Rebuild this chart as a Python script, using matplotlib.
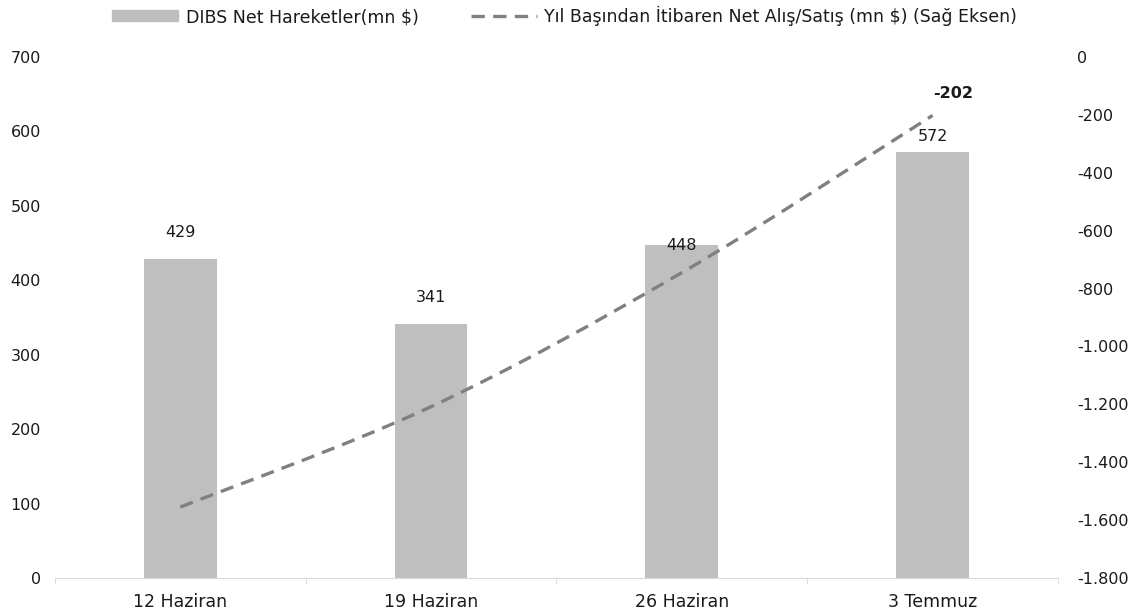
import matplotlib
matplotlib.use("Agg")
import matplotlib.pyplot as plt
from matplotlib.path import Path
from matplotlib.patches import PathPatch
from matplotlib.lines import Line2D
from matplotlib.ticker import FuncFormatter
import numpy as np

categories = ["12 Haziran", "19 Haziran", "26 Haziran", "3 Temmuz"]
dibs_net = [429, 341, 448, 572]
ytd_net = [-1555, -1208, -745, -202]

bar_label = "DIBS Net Hareketler(mn \\$)"
line_label = "Yıl Başından İtibaren Net Alış/Satış (mn \\$) (Sağ Eksen)"

bar_color = "#BFBFBF"
line_color = "#808080"
text_color = "#1A1A1A"
num_size = 11.5
txt_size = 12.5

plt.rcParams["font.family"] = ["DejaVu Sans"]

fig = plt.figure(figsize=(11.43, 6.14), dpi=100)
ax = fig.add_axes([0.0481, 0.0586, 0.8775, 0.8486])
ax2 = ax.twinx()

x = np.arange(len(categories))
ax.bar(x, dibs_net, width=0.29, color=bar_color, zorder=1)
ax.set_xlim(-0.5, len(categories) - 0.5)
ax.set_ylim(0, 700)
ax.set_yticks(range(0, 701, 100))
ax.set_xticks(x)
ax.set_xticklabels(categories)
ax.set_xticks(np.arange(-0.5, len(categories)), minor=True)

for spine in ["top", "left", "right"]:
    ax.spines[spine].set_visible(False)
    ax2.spines[spine].set_visible(False)
ax2.spines["bottom"].set_visible(False)
ax.spines["bottom"].set_color("#D9D9D9")

ax.tick_params(axis="y", length=0, pad=10, labelsize=num_size, colors=text_color)
ax.tick_params(axis="x", which="major", length=0, pad=11, labelsize=txt_size, colors=text_color)
ax.tick_params(axis="x", which="minor", length=4, color="#D9D9D9")

# bar value labels (448 sits on the bar top like in the source)
label_offsets = [19, 19, -1, 11]
for i, v in enumerate(dibs_net):
    ax.annotate(str(v), (x[i], v), xytext=(0, label_offsets[i]), textcoords="offset points",
                ha="center", va="center", fontsize=num_size, color=text_color)

# smoothed line on right axis (Catmull-Rom style bezier through the points)
ax2.set_ylim(-1800, 0)
ax2.set_yticks(range(-1800, 1, 200))
ax2.yaxis.set_major_formatter(FuncFormatter(lambda v, p: f"{int(v):,}".replace(",", ".")))
ax2.tick_params(axis="y", length=0, pad=14, labelsize=num_size, colors=text_color)

pts = np.column_stack([x, ytd_net]).astype(float)
ext = np.vstack([pts[0], pts, pts[-1]])
verts = [tuple(pts[0])]
codes = [Path.MOVETO]
for i in range(len(pts) - 1):
    p0, p1, p2, p3 = ext[i], ext[i + 1], ext[i + 2], ext[i + 3]
    c1 = p1 + (p2 - p0) / 6
    c2 = p2 - (p3 - p1) / 6
    verts += [tuple(c1), tuple(c2), tuple(p2)]
    codes += [Path.CURVE4] * 3
patch = PathPatch(Path(verts, codes), fill=False, edgecolor=line_color, lw=2.4,
                  linestyle=(0, (4, 2.5)), capstyle="butt", zorder=3)
ax2.add_patch(patch)

ax2.annotate(f"{ytd_net[-1]}", (x[-1], ytd_net[-1]), xytext=(15, 16), textcoords="offset points",
             ha="center", va="center", fontsize=num_size, fontweight="bold", color=text_color)

handles = [plt.Rectangle((0, 0), 1, 1, color=bar_color),
           Line2D([0], [0], color=line_color, lw=2.4, linestyle=(0, (4, 2.5)))]
fig.legend(handles, [bar_label, line_label], loc="center", bbox_to_anchor=(0.494, 0.974),
           ncol=2, frameon=False, fontsize=txt_size, handlelength=3.8, handleheight=0.6,
           columnspacing=3.0, handletextpad=0.45, labelcolor=text_color)

fig.savefig("out.png", dpi=100)
